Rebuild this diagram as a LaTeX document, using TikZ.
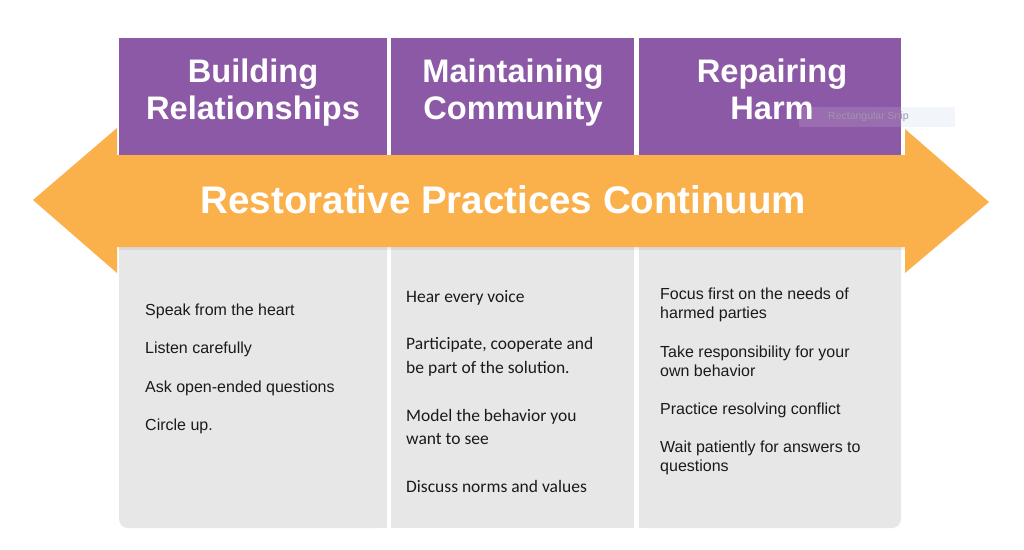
\documentclass[tikz,border=0pt]{standalone}
\usepackage{fontspec}
\setmainfont{Liberation Sans}
\newfontfamily\calibri{Carlito}
\definecolor{rpPurple}{HTML}{8B59A5}
\definecolor{rpOrange}{HTML}{FAB04B}
\definecolor{rpGray}{HTML}{E7E7E7}
\definecolor{rpText}{HTML}{1A1A1A}
\definecolor{snipFill}{HTML}{F2F6FB}
\definecolor{snipText}{HTML}{A096AE}
\tikzset{
  headbox/.style={fill=rpPurple, draw=none},
  bodyfill/.style={fill=rpGray, draw=none},
  arrowfill/.style={fill=rpOrange, draw=none},
  headtext/.style={text=white, font=\fontsize{32.6}{37}\selectfont\bfseries, align=center, inner sep=0pt},
  titletext/.style={text=white, font=\fontsize{38.5}{42}\selectfont\bfseries, inner sep=0pt},
  arialitem/.style={text=rpText, font=\fontsize{16}{19}\selectfont, align=left, anchor=west, inner sep=0pt},
  caliitem/.style={text=rpText, font=\calibri\fontsize{17.5}{23.5}\selectfont, align=left, anchor=west, inner sep=0pt},
}
\begin{document}
\begin{tikzpicture}[x=1pt,y=-1pt]
\useasboundingbox[fill=white] (0,0) rectangle (1024,549);

% grey body columns
\fill[bodyfill, rounded corners=9pt] (119,240) rectangle (387,528);
\fill[bodyfill] (119,240) rectangle (387,510);
\fill[bodyfill] (300,240) rectangle (387,528);
\fill[bodyfill] (391,240) rectangle (634,528);
\fill[bodyfill, rounded corners=9pt] (639,240) rectangle (901,528);
\fill[bodyfill] (639,240) rectangle (901,510);
\fill[bodyfill] (639,240) rectangle (800,528);

% purple header boxes
\node[headbox, minimum width=268pt, minimum height=120pt, inner sep=0pt, anchor=north west] (h1) at (119,38) {};
\node[headbox, minimum width=243pt, minimum height=120pt, inner sep=0pt, anchor=north west] (h2) at (391,38) {};
\node[headbox, minimum width=262pt, minimum height=120pt, inner sep=0pt, anchor=north west] (h3) at (639,38) {};

% faint snipping-tool tooltip
\fill[white, opacity=0.12] (799,107) rectangle (901,127);
\fill[snipFill] (901,107) rectangle (955,127);
\node[text=snipText, font=\fontsize{10.5}{12}\selectfont, anchor=west, inner sep=0pt] (snip) at (828,117) {Rectangular Snip};

\node[headtext] (t1) at (253,94) {\strut Building\\\strut Relationships};
\node[headtext] (t2) at (513,94) {\strut Maintaining\\\strut Community};
\node[headtext] (t3) at (772,94) {\strut Repairing\\\strut Harm};

% double arrow
\fill[black, opacity=0.06] (119,247) rectangle (905,249.5);
\fill[arrowfill] (33,200) -- (117,128) -- (117,155) -- (905,155) -- (905,129)
  -- (989,202) -- (905,273) -- (905,247) -- (117,247) -- (117,273) -- cycle;
\node[titletext] (title) at (503.5,200) {Restorative Practices Continuum};

% column 1
\node[arialitem] (a1) at (145,311) {Speak from the heart};
\node[arialitem] (a2) at (145,349.5) {Listen carefully};
\node[arialitem] (a3) at (145,388) {Ask open-ended questions};
\node[arialitem] (a4) at (145,426.5) {Circle up.};

% column 2
\node[caliitem] (b1) at (406,298) {Hear every voice};
\node[caliitem] (b2) at (406,357) {Participate, cooperate and\\be part of the solution.};
\node[caliitem] (b3) at (406,427) {Model the behavior you\\want to see};
\node[caliitem] (b4) at (406,486) {Discuss norms and values};

% column 3
\node[arialitem] (c1) at (660,304.5) {Focus first on the needs of\\harmed parties};
\node[arialitem] (c2) at (660,361.5) {Take responsibility for your\\own behavior};
\node[arialitem] (c3) at (660,410) {Practice resolving conflict};
\node[arialitem] (c4) at (660,457.5) {Wait patiently for answers to\\questions};
\end{tikzpicture}
\end{document}
